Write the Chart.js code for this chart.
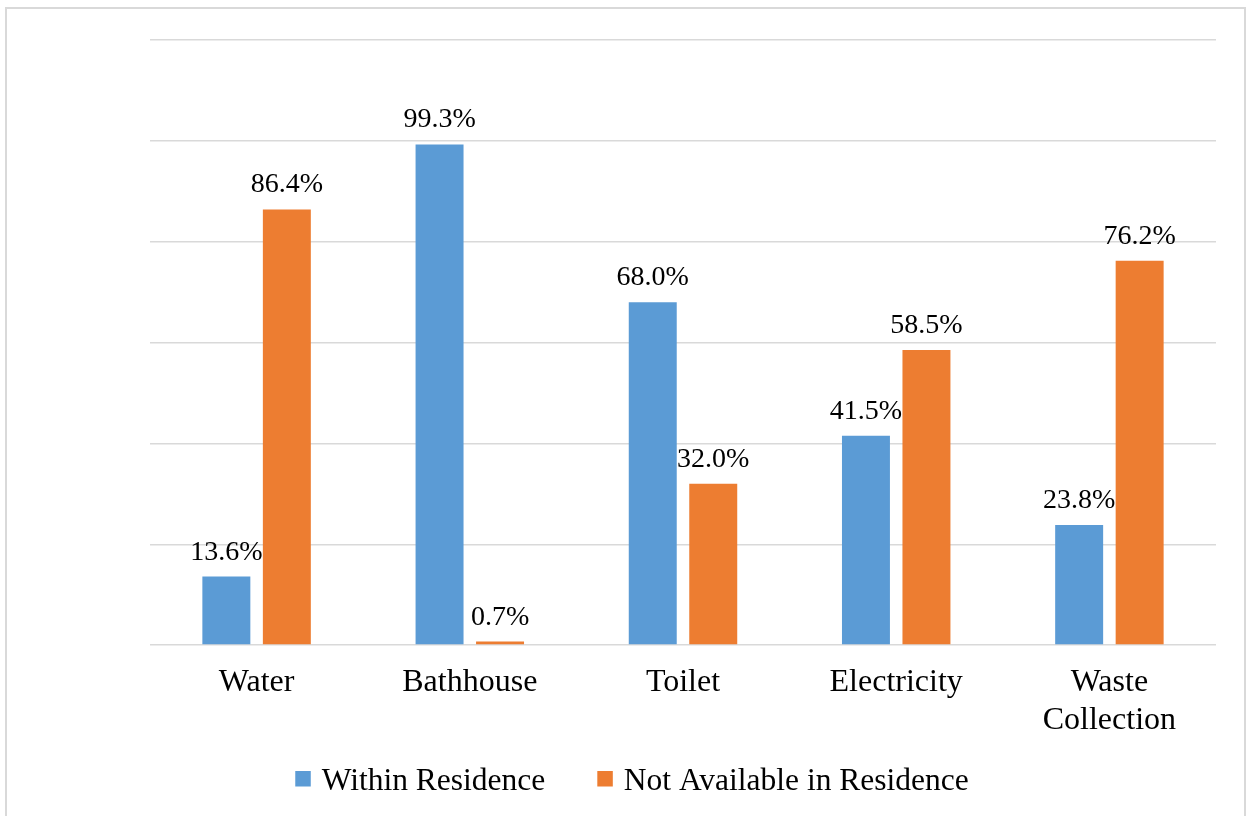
<!DOCTYPE html>
<html>
<head>
<meta charset="utf-8">
<script src="https://cdn.jsdelivr.net/npm/chart.js@4/dist/chart.umd.min.js"></script>
<style>
  html, body { margin: 0; padding: 0; background: #ffffff; }
  #wrap { position: relative; width: 1249px; height: 816px; overflow: hidden; }
  #frame {
    position: absolute; left: 5px; top: 7px; width: 1237px; height: 840px;
    border: 2px solid #d9d9d9; box-sizing: content-box; pointer-events: none;
  }
  canvas { position: absolute; left: 0; top: 0; }
</style>
</head>
<body>
<div id="wrap">
  <canvas id="chart" width="1249" height="816"></canvas>
  <div id="frame"></div>
</div>
<script>
// Access to household services, share of respondents (%)
const categories = ['Water', 'Bathhouse', 'Toilet', 'Electricity', ['Waste', 'Collection']];
const withinResidence = [13.6, 99.3, 68.0, 41.5, 23.8];
const notAvailable = [86.4, 0.7, 32.0, 58.5, 76.2];
const seriesNames = ['Within Residence', 'Not Available in Residence'];
const yTicks = [0, 20, 40, 60, 80, 100, 120];

const FONT = '"Liberation Serif", "Times New Roman", serif';

// Percentage labels above each bar
const valueLabels = {
  id: 'valueLabels',
  afterDatasetsDraw(chart) {
    const ctx = chart.ctx;
    ctx.save();
    ctx.font = '28px ' + FONT;
    ctx.fillStyle = '#000000';
    ctx.textAlign = 'center';
    ctx.textBaseline = 'alphabetic';
    chart.data.datasets.forEach((ds, di) => {
      const meta = chart.getDatasetMeta(di);
      meta.data.forEach((bar, i) => {
        ctx.fillText(ds.data[i].toFixed(1) + '%', bar.x, bar.y - 17);
      });
    });
    ctx.restore();
  }
};

// Series key centred under the axis labels
const seriesKey = {
  id: 'seriesKey',
  afterDraw(chart) {
    const ctx = chart.ctx;
    ctx.save();
    ctx.font = '31.5px ' + FONT;
    const box = 15.5, textGap = 11, itemGap = 52;
    const widths = chart.data.datasets.map(ds => box + textGap + ctx.measureText(ds.label).width);
    const total = widths.reduce((a, b) => a + b, 0) + itemGap * (widths.length - 1);
    let x = 632 - total / 2;
    const boxTop = 771, baseline = 790;
    chart.data.datasets.forEach((ds, i) => {
      ctx.fillStyle = ds.backgroundColor;
      ctx.fillRect(x, boxTop, box, box);
      ctx.fillStyle = '#000000';
      ctx.textAlign = 'left';
      ctx.textBaseline = 'alphabetic';
      ctx.fillText(ds.label, x + box + textGap, baseline);
      x += widths[i] + itemGap;
    });
    ctx.restore();
  }
};

new Chart(document.getElementById('chart'), {
  type: 'bar',
  data: {
    labels: categories,
    datasets: [
      { label: seriesNames[0], data: withinResidence, backgroundColor: '#5B9BD5' },
      { label: seriesNames[1], data: notAvailable, backgroundColor: '#ED7D31' }
    ]
  },
  options: {
    responsive: false,
    animation: false,
    devicePixelRatio: 1,
    layout: { padding: { left: 150, right: 33, top: 40, bottom: 58 } },
    datasets: { bar: { categoryPercentage: 0.5675, barPercentage: 0.793, borderWidth: 0 } },
    plugins: {
      legend: { display: false },
      tooltip: { enabled: false },
      title: { display: false }
    },
    scales: {
      x: {
        grid: { display: false, drawTicks: false },
        border: { display: false },
        ticks: {
          color: '#000000',
          font: { family: FONT, size: 32, lineHeight: 1.17 },
          padding: 19,
          maxRotation: 0,
          autoSkip: false
        }
      },
      y: {
        min: yTicks[0],
        max: yTicks[yTicks.length - 1],
        afterBuildTicks(scale) { scale.ticks = yTicks.map(v => ({ value: v })); },
        grid: { color: '#d9d9d9', lineWidth: 1.5, drawTicks: false },
        border: { display: false },
        ticks: { display: false }
      }
    }
  },
  plugins: [valueLabels, seriesKey]
});
</script>
</body>
</html>
